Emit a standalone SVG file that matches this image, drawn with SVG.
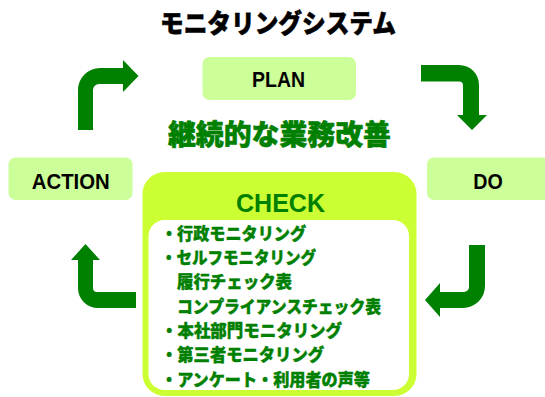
<svg xmlns="http://www.w3.org/2000/svg" width="545" height="397" viewBox="0 0 545 397">
  <style>
    .box { fill: #ccff99; }
    .lbl { font-family: "Liberation Sans", Arial, sans-serif; font-weight: bold; font-size: 22px; fill: #000000; text-anchor: middle; }
    .jp { font-family: "Noto Sans CJK JP", "Noto Sans", sans-serif; font-weight: 900; stroke-width: 0.6; stroke-linejoin: round; }
    .item { font-family: "Noto Sans CJK JP", "Noto Sans", sans-serif; font-weight: 900; font-size: 17px; fill: #008000; stroke: #008000; stroke-width: 0.4; stroke-linejoin: round; }
    .arrow { fill: #008000; }
  </style>
  <rect width="545" height="397" fill="#ffffff"/>

  <g id="title">
    <text class="jp" x="160" y="32.5" font-size="26" fill="#000000" stroke="#000000" textLength="236" lengthAdjust="spacingAndGlyphs">モニタリングシステム</text>
  </g>

  <g id="subtitle">
    <text class="jp" x="168" y="144.5" font-size="28" fill="#008000" stroke="#008000" textLength="223" lengthAdjust="spacingAndGlyphs">継続的な業務改善</text>
  </g>

  <g id="plan">
    <rect class="box" x="202.5" y="57" width="153.5" height="43" rx="7"/>
    <text class="lbl" x="278.5" y="87.3" textLength="53" lengthAdjust="spacingAndGlyphs">PLAN</text>
  </g>

  <g id="action">
    <rect class="box" x="8.5" y="157.5" width="124" height="42.5" rx="7"/>
    <text class="lbl" x="70.8" y="189.3" textLength="78" lengthAdjust="spacingAndGlyphs">ACTION</text>
  </g>

  <g id="do">
    <rect class="box" x="427" y="157.5" width="124" height="42.5" rx="7"/>
    <text class="lbl" x="488" y="189.3" textLength="29.5" lengthAdjust="spacingAndGlyphs">DO</text>
  </g>

  <g id="check">
    <rect x="142.5" y="172" width="274" height="224" rx="22" fill="#ccff33"/>
    <rect x="148.5" y="220" width="260.5" height="170" rx="16" fill="#ffffff"/>
    <text x="280.5" y="211.7" font-family="Liberation Sans, Arial, sans-serif" font-weight="bold" font-size="25" fill="#008000" text-anchor="middle" textLength="89" lengthAdjust="spacingAndGlyphs">CHECK</text>
    <text class="item" x="161" y="240" textLength="145" lengthAdjust="spacingAndGlyphs">・行政モニタリング</text>
    <text class="item" x="161" y="264" textLength="155" lengthAdjust="spacingAndGlyphs">・セルフモニタリング</text>
    <text class="item" x="177" y="288" textLength="115" lengthAdjust="spacingAndGlyphs">履行チェック表</text>
    <text class="item" x="177" y="312.5" textLength="204" lengthAdjust="spacingAndGlyphs">コンプライアンスチェック表</text>
    <text class="item" x="161" y="336.5" textLength="181" lengthAdjust="spacingAndGlyphs">・本社部門モニタリング</text>
    <text class="item" x="161" y="361" textLength="163" lengthAdjust="spacingAndGlyphs">・第三者モニタリング</text>
    <text class="item" x="161" y="385.5" textLength="209" lengthAdjust="spacingAndGlyphs">・アンケート・利用者の声等</text>
  </g>

  <g id="connectors">
    <path class="arrow" d="M 78 130 L 78 90 A 22 22 0 0 1 100 68 L 123 68 L 123 60 L 138.5 76 L 123 92 L 123 84 L 99 84 A 6 6 0 0 0 93 90 L 93 130 Z"/>
    <path class="arrow" d="M 421 65 L 459 65 A 20 20 0 0 1 479 85 L 479 115 L 487 115 L 472 130 L 457 115 L 463 115 L 463 85.5 A 4 4 0 0 0 459 81.5 L 421 81.5 Z"/>
    <path class="arrow" d="M 485 245 L 485 286 A 22 22 0 0 1 463 308 L 440 308 L 440 317 L 425 300 L 440 283 L 440 292 L 464 292 A 5 5 0 0 0 469 287 L 469 245 Z"/>
    <path class="arrow" d="M 136 292 L 97 292 A 4 4 0 0 1 93 288 L 93 260 L 100 260 L 85.5 244 L 71 260 L 78 260 L 78 288 A 20 20 0 0 0 98 308 L 136 308 Z"/>
  </g>
</svg>
